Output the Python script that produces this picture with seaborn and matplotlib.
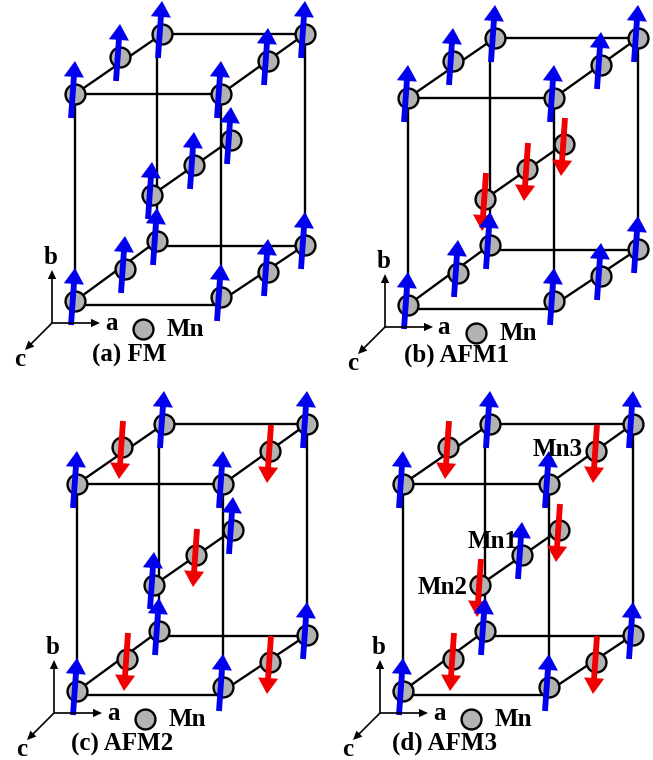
import pandas as pd
import seaborn as sns
import matplotlib.pyplot as plt

sns.set_theme(style="white")
plt.rcParams['font.family'] = ['Liberation Serif', 'DejaVu Serif']
plt.rcParams['font.weight'] = 'bold'
plt.rcParams['text.color'] = 'black'

# atoms of one cell, in pixels of panel (a): top layer, middle chain, bottom layer
atom_x = [75, 120, 162, 221, 268, 305, 152, 194, 231, 75, 125, 157, 221, 268, 305]
atom_y = [94, 57, 34, 94, 61, 34, 195, 165, 140, 301, 269, 241, 297, 272, 245]

# cell edges
bond_x0 = [75, 75, 162, 221, 75, 75, 157, 221, 75, 221, 157, 305, 152]
bond_y0 = [94, 94, 34, 94, 305, 301, 246, 301, 94, 94, 34, 34, 195]
bond_x1 = [221, 162, 305, 305, 221, 157, 305, 305, 75, 221, 157, 305, 231]
bond_y1 = [94, 34, 34, 34, 305, 241, 246, 245, 301, 297, 241, 245, 140]

# panels
panel_names = ["(a) FM", "(b) AFM1", "(c) AFM2", "(d) AFM3"]
panel_dx = [0, 333, 2, 328]
panel_dy = [0, 4, 390, 390]
caption_x = [129, 457, 122, 444]
caption_y = [355, 355, 744, 743]

spins_a = [1, 1, 1, 1, 1, 1, 1, 1, 1, 1, 1, 1, 1, 1, 1]
spins_b = [1, 1, 1, 1, 1, 1, -1, -1, -1, 1, 1, 1, 1, 1, 1]
spins_c = [1, -1, 1, 1, -1, 1, 1, -1, 1, 1, -1, 1, 1, -1, 1]
spins_d = [1, -1, 1, 1, -1, 1, -1, 1, -1, 1, -1, 1, 1, -1, 1]
panel_spins = [spins_a, spins_b, spins_c, spins_d]

mn_labels = ["Mn3", "Mn1", "Mn2"]
mn_label_x = [558, 493, 443]
mn_label_y = [449, 541, 587]

BLUE = "#0000ee"
RED = "#f00000"
GRAY = "#b2b2b2"

fig = plt.figure(figsize=(6.53, 7.6), dpi=100)
ax = fig.add_axes([0, 0, 1, 1])

bond_rows = []
atom_rows = []
for p, (dx, dy) in enumerate(zip(panel_dx, panel_dy)):
    for i in range(len(bond_x0)):
        bond_rows.append({"bond": f"{p}-{i}", "x": bond_x0[i] + dx, "y": bond_y0[i] + dy})
        bond_rows.append({"bond": f"{p}-{i}", "x": bond_x1[i] + dx, "y": bond_y1[i] + dy})
    for i in range(len(atom_x)):
        atom_rows.append({"x": atom_x[i] + dx, "y": atom_y[i] + dy})
    # legend atom
    atom_rows.append({"x": 143 + dx, "y": 329 + dy})

bonds = pd.DataFrame(bond_rows)
atoms = pd.DataFrame(atom_rows)

sns.lineplot(data=bonds, x="x", y="y", units="bond", estimator=None, sort=False,
             color="black", linewidth=1.7, ax=ax, zorder=1)
sns.scatterplot(data=atoms, x="x", y="y", s=205, color=GRAY, edgecolor="black",
                linewidth=1.7, ax=ax, zorder=2)


def arrow(x0, y0, x1, y1, color, width=4.2, head=14.5, length=11.5, z=3):
    ax.annotate("", xy=(x1, y1), xytext=(x0, y0), zorder=z, annotation_clip=False,
                arrowprops=dict(facecolor=color, edgecolor="none", width=width,
                                headwidth=head, headlength=length, shrink=0))


for p, (dx, dy) in enumerate(zip(panel_dx, panel_dy)):
    for i, s in enumerate(panel_spins[p]):
        x, y = atom_x[i] + dx, atom_y[i] + dy
        if s > 0:
            arrow(x - 4, y + 24, x, y - 33, BLUE)
        else:
            arrow(x + 1, y - 26, x - 3, y + 32, RED)

    # a, b, c axes
    ox, oy = 52 + dx, 323 + dy
    arrow(ox, oy, ox, 270 + dy, "black", 1.2, 6, 6.5)
    arrow(ox, oy, 100 + dx, oy, "black", 1.2, 6, 6.5)
    arrow(ox, oy, 25 + dx, 350 + dy, "black", 1.2, 6, 6.5)
    ax.text(51 + dx, 258 + dy, "b", fontsize=18, ha="center", va="center")
    ax.text(111 + dx, 323 + dy, "a", fontsize=18, ha="center", va="center")
    ax.text(20 + dx, 360 + dy, "c", fontsize=18, ha="center", va="center")
    ax.text(185 + dx, 329 + dy, "Mn", fontsize=18, ha="center", va="center")
    ax.text(caption_x[p], caption_y[p], panel_names[p], fontsize=18, ha="center", va="center")

for label, x, y in zip(mn_labels, mn_label_x, mn_label_y):
    ax.text(x, y, label, fontsize=18, ha="center", va="center", zorder=5)

ax.set_xlim(0, 653)
ax.set_ylim(760, 0)
ax.axis("off")

fig.savefig("out.png", dpi=100)
